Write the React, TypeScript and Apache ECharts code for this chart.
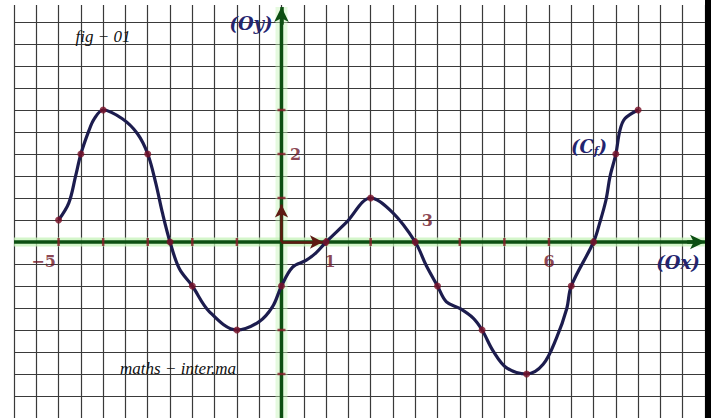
import React, { useEffect, useRef } from "react";
import * as echarts from "echarts";

// Curve samples (x, y)
const curveX = [-5, -4.77, -4.62, -4.5, -4.32, -4.2, -4, -3.57, -3.23, -3, -2.82, -2.67, -2.5, -2.29, -2, -1.62, -1, -0.5, -0.2, 0, 0.25, 0.55, 0.78, 1, 1.45, 2, 2.5, 3, 3.25, 3.5, 3.7, 4.0, 4.3, 4.5, 4.75, 5.05, 5.5, 5.87, 6.17, 6.4, 6.5, 7, 7.14, 7.28, 7.37, 7.5, 7.59, 7.7, 8];
const curveY = [0.5, 0.89, 1.49, 2, 2.53, 2.8, 3, 2.8, 2.46, 2, 1.34, 0.66, 0, -0.61, -1, -1.58, -2, -1.81, -1.47, -1, -0.57, -0.42, -0.24, 0, 0.44, 1, 0.66, 0, -0.54, -1, -1.36, -1.51, -1.73, -2, -2.48, -2.86, -3, -2.78, -2.18, -1.51, -1, 0, 0.44, 0.96, 1.49, 2, 2.53, 2.8, 3];

// Marked points of the curve
const pointX = [-5, -4.5, -4, -3, -2.5, -2, -1, 0, 1, 2, 3, 3.5, 4.5, 5.5, 6.5, 7, 7.5, 8];
const pointY = [0.5, 2, 3, 2, 0, -1, -2, -1, 0, 1, 0, -1, -2, -3, -1, 0, 2, 3];

// Axis tick marks
const xTickVals = [-5, -4, -3, -2, -1, 1, 2, 3, 4, 5, 6, 7];
const yTickVals = [3, 2, 1, -2, -3];

// Axis labels
const xLabelVals = [-5, 1, 3, 6];
const xLabelTexts = ["−5", "1", "3", "6"];
const yLabelVals = [2];
const yLabelTexts = ["2"];

const X_MIN = -6;
const X_MAX = 9.5;
const Y_MIN = -4;
const Y_MAX = 5.5;
const Y_TOP = 5.34;

export default function App() {
  const ref = useRef<HTMLDivElement>(null);

  useEffect(() => {
    const chart = echarts.init(ref.current!, null, { renderer: "svg" });

    const curveData = curveX.map((x, i) => [x, curveY[i]]);
    const pointData = pointX.map((x, i) => [x, pointY[i]]);
    const xOffsets = [[-15, 19], [4, 19], [12, -22], [0, 19]];

    const labelFont = {
      fontFamily: "DejaVu Serif",
      fontWeight: "bold" as const,
      fontSize: 16,
      color: "#6e1426",
    };

    const axisGreen = "#0c4f12";
    const glow = "#c6f3b8";

    const option: any = {
      animation: false,
      backgroundColor: "#ffffff",
      grid: { left: 14, right: 0, top: -2, bottom: -2.8 },
      xAxis: {
        type: "value",
        min: X_MIN,
        max: X_MAX,
        interval: 0.5,
        axisLine: { show: false },
        axisTick: { show: false },
        axisLabel: { show: false },
        splitLine: { show: true, lineStyle: { color: "#3a3a3a", width: 1.2 } },
      },
      yAxis: {
        type: "value",
        min: Y_MIN,
        max: Y_MAX,
        interval: 0.5,
        axisLine: { show: false },
        axisTick: { show: false },
        axisLabel: { show: false },
        splitLine: { show: true, lineStyle: { color: "#3a3a3a", width: 1.2 } },
      },
      graphic: [
        { type: "rect", z: 1, shape: { x: 0, y: 0, width: 711, height: 5 }, style: { fill: "#ffffff" } },
        {
          type: "text", z: 50, x: 103, y: 36,
          style: { text: "fig − 01", font: "italic 17px 'Liberation Serif'", fill: "#111", textAlign: "center", textVerticalAlign: "middle" },
        },
        {
          type: "text", z: 50, x: 178, y: 368,
          style: { text: "maths − inter.ma", font: "italic 17px 'Liberation Serif'", fill: "#111", textAlign: "center", textVerticalAlign: "middle" },
        },
        {
          type: "text", z: 50, x: 251, y: 23,
          style: { text: "(Oy)", font: "italic bold 18px 'DejaVu Serif'", fill: "#24246e", textAlign: "center", textVerticalAlign: "middle" },
        },
        {
          type: "text", z: 50, x: 678, y: 262,
          style: { text: "(Ox)", font: "italic bold 18px 'DejaVu Serif'", fill: "#24246e", textAlign: "center", textVerticalAlign: "middle" },
        },
        {
          type: "text", z: 50, x: 589, y: 146,
          style: {
            text: "{a|(C}{b|f}{a|)}",
            textAlign: "center",
            textVerticalAlign: "middle",
            rich: {
              a: { font: "italic bold 18px 'DejaVu Serif'", fill: "#24246e", color: "#24246e" },
              b: { font: "italic bold 11px 'DejaVu Serif'", fill: "#24246e", color: "#24246e", padding: [10, 0, 0, 0] },
            },
          },
        },
      ],
      series: [
        // glow of axes
        {
          type: "line", silent: true, symbol: "none", z: 2,
          data: [[X_MIN, 0], [X_MAX, 0]],
          lineStyle: { color: glow, width: 9, opacity: 0.75 },
        },
        {
          type: "line", silent: true, symbol: "none", z: 2,
          data: [[0, Y_MIN], [0, Y_TOP]],
          lineStyle: { color: glow, width: 12, opacity: 0.45 },
        },
        // axes
        {
          type: "line", silent: true, symbol: "none", z: 3,
          data: [[X_MIN, 0], [X_MAX - 0.2, 0]],
          lineStyle: { color: axisGreen, width: 3.5 },
          markLine: {
            silent: true,
            symbol: ["none", "arrow"],
            symbolSize: [11, 15],
            label: { show: false },
            lineStyle: { color: axisGreen, width: 3.5, type: "solid" },
            data: [
              [{ coord: [X_MAX - 0.4, 0] }, { coord: [X_MAX, 0] }],
              [{ coord: [0, Y_TOP - 0.4] }, { coord: [0, Y_TOP] }],
            ],
          },
        },
        {
          type: "line", silent: true, symbol: "none", z: 3,
          data: [[0, Y_MIN], [0, Y_TOP - 0.2]],
          lineStyle: { color: axisGreen, width: 3.5 },
        },
        // unit vectors
        {
          type: "line", silent: true, symbol: "none", z: 4,
          data: [],
          markLine: {
            silent: true,
            symbol: ["none", "arrow"],
            symbolSize: [10, 13],
            label: { show: false },
            lineStyle: { color: "#5e1a12", width: 2.5, type: "solid" },
            data: [
              [{ coord: [0, 0] }, { coord: [0.93, 0] }],
              [{ coord: [0, 0] }, { coord: [0, 0.85] }],
            ],
          },
        },
        // tick marks
        {
          type: "scatter", silent: true, z: 5,
          symbol: "rect", symbolSize: [2.5, 8],
          itemStyle: { color: "#8a1c2b" },
          data: xTickVals.map((v) => [v, 0]),
        },
        {
          type: "scatter", silent: true, z: 5,
          symbol: "rect", symbolSize: [8, 2.5],
          itemStyle: { color: "#8a1c2b" },
          data: yTickVals.map((v) => [0, v]),
        },
        // curve
        {
          type: "line", silent: true, z: 6,
          symbol: "none", smooth: 0.35,
          lineStyle: { color: "#1c1c4e", width: 3.2 },
          data: curveData,
        },
        // points
        {
          type: "scatter", silent: true, z: 7,
          symbol: "circle", symbolSize: 7,
          itemStyle: { color: "#7a1228" },
          data: pointData,
        },
        // axis labels
        {
          type: "scatter", silent: true, z: 8, symbolSize: 0,
          data: xLabelVals.map((v, i) => ({
            value: [v, 0],
            label: {
              show: true, position: "inside", offset: xOffsets[i],
              formatter: xLabelTexts[i], ...labelFont,
            },
          })),
        },
        {
          type: "scatter", silent: true, z: 8, symbolSize: 0,
          data: yLabelVals.map((v, i) => ({
            value: [0, v],
            label: {
              show: true, position: "inside", offset: [14, 0],
              formatter: yLabelTexts[i], ...labelFont,
            },
          })),
        },
      ],
    };

    chart.setOption(option);
    return () => chart.dispose();
  }, []);

  return (
    <div style={{ position: "fixed", left: 0, top: 0, width: 711, height: 418, background: "#000" }}>
      <div ref={ref} style={{ width: 705, height: 418, background: "#fff" }} />
    </div>
  );
}
